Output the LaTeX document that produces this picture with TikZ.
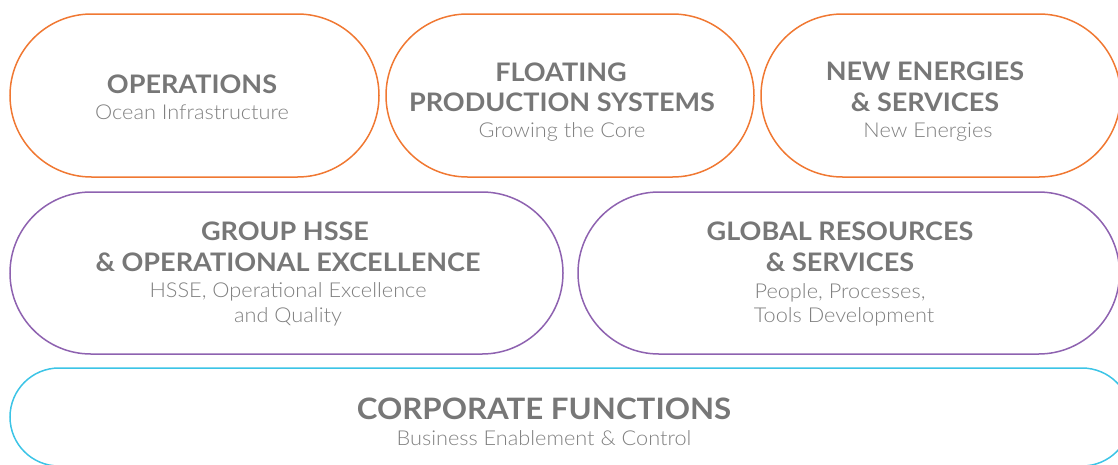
\documentclass[tikz,border=0pt]{standalone}
\usepackage{fontspec}
\setmainfont{Lato}[FakeStretch=1.06]
\newfontfamily\lightfont{Lato Light}[FakeStretch=1.06]
\definecolor{cOrange}{HTML}{F07832}
\definecolor{cPurple}{HTML}{8E62B0}
\definecolor{cCyan}{HTML}{3CC4E6}
\definecolor{cTitle}{HTML}{777777}
\definecolor{cSub}{HTML}{808080}
\tikzset{
  pill/.style={draw=#1, line width=1.5pt, inner sep=0pt, outer sep=0pt, fill=none},
  ttl/.style={anchor=base, inner sep=0pt, text=cTitle, font=\fontsize{25.5}{30}\selectfont\bfseries},
  bigttl/.style={anchor=base, inner sep=0pt, text=cTitle, font=\fontsize{29.5}{34}\selectfont\bfseries},
  sub/.style={anchor=base, inner sep=0pt, text=cSub, font=\lightfont\fontsize{20.5}{24}\selectfont},
}
\begin{document}
\begin{tikzpicture}[x=1pt, y=-1pt]
\useasboundingbox (0,0) rectangle (1118,464);
\clip (0,0) rectangle (1118,464);
% row 1
\node[pill=cOrange, minimum width=369pt, minimum height=163pt, rounded corners=81.5pt] (b1) at (194.5,95.5) {};
\node[pill=cOrange, minimum width=368pt, minimum height=163pt, rounded corners=81.5pt] (b2) at (570,95.5) {};
\node[pill=cOrange, minimum width=359.5pt, minimum height=163pt, rounded corners=81.5pt] (b3) at (940.75,95.5) {};
% row 2
\node[pill=cPurple, minimum width=553pt, minimum height=162pt, rounded corners=81pt] (b4) at (286.5,273) {};
\node[pill=cPurple, minimum width=541.5pt, minimum height=162pt, rounded corners=81pt] (b5) at (848.75,273) {};
% row 3
\node[pill=cCyan, minimum width=1121pt, minimum height=98pt, rounded corners=49pt] (b6) at (570.5,417) {};
% texts
\node[ttl] (t1) at (192,93) {OPERATIONS};
\node[sub] (s1) at (192,119) {Ocean Infrastructure};
\node[ttl] (t2a) at (561,81) {FLOATING};
\node[ttl] (t2b) at (562,111) {PRODUCTION SYSTEMS};
\node[sub] (s2) at (562,137) {Growing the Core};
\node[ttl] (t3a) at (925,80) {NEW ENERGIES};
\node[ttl] (t3b) at (925,111) {\& SERVICES};
\node[sub] (s3) at (928,137) {New Energies};
\node[ttl] (t4a) at (285,240) {GROUP HSSE};
\node[ttl] (t4b) at (288,271) {\& OPERATIONAL EXCELLENCE};
\node[sub] (s4a) at (288,297) {HSSE, Operational Excellence};
\node[sub] (s4b) at (288,322) {and Quality};
\node[ttl] (t5a) at (840,240) {GLOBAL RESOURCES};
\node[ttl] (t5b) at (840,271) {\& SERVICES};
\node[sub] (s5a) at (840,298) {People, Processes,};
\node[sub] (s5b) at (844,322) {Tools Development};
\node[bigttl] (t6) at (544,419) {CORPORATE FUNCTIONS};
\node[sub] (s6) at (544,445) {Business Enablement \& Control};
\end{tikzpicture}
\end{document}
